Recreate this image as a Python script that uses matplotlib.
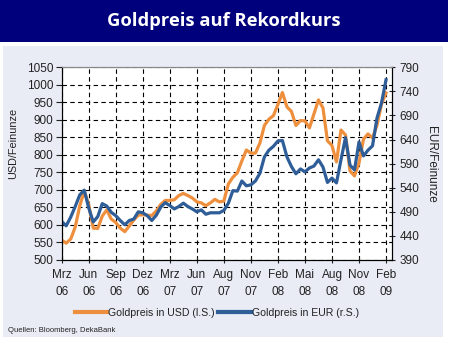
import matplotlib.pyplot as plt
import numpy as np
from matplotlib.patches import Rectangle
from matplotlib.lines import Line2D

plt.rcParams['font.family'] = ['Liberation Sans', 'DejaVu Sans']

# Achsenbeschriftung (gleichmäßige Abstände)
monate = ['Mrz\n06', 'Jun\n06', 'Sep\n06', 'Dez\n06', 'Mrz\n07', 'Jun\n07', 'Aug\n07',
          'Nov\n07', 'Feb\n08', 'Mai\n08', 'Aug\n08', 'Nov\n08', 'Feb\n09']

# Goldpreis in USD/Feinunze, 6 Werte je Abschnitt
usd = [557, 548, 560, 594, 654, 697, 658, 591, 590, 625, 643, 617, 607,
       591, 581, 597, 614, 628, 629, 628, 627, 640, 659, 670, 670,
       672, 684, 690, 684, 677, 666, 663, 655, 663, 673, 666, 668,
       717, 736, 749, 783, 814, 805, 805, 834, 884, 902, 912, 944,
       978, 937, 924, 884, 898, 897, 877, 917, 957, 934, 840, 827,
       780, 871, 857, 754, 740, 777, 845, 860, 848, 885, 945, 977]

# Goldpreis in EUR/Feinunze, gleiche Zeitpunkte
eur = [470, 461, 479, 501, 525, 535, 498, 469, 480, 507, 502, 489, 482,
       472, 463, 472, 475, 490, 488, 482, 472, 483, 500, 509, 503,
       496, 501, 508, 501, 496, 490, 494, 485, 488, 488, 488, 493,
       508, 534, 533, 554, 544, 546, 554, 570, 604, 618, 626, 637,
       638, 604, 584, 569, 579, 573, 581, 585, 598, 583, 551, 560,
       550, 598, 644, 587, 577, 635, 606, 618, 627, 685, 716, 764]

x = np.arange(len(usd)) / 6

orange = '#EE8F3E'
blau = '#2E5D98'
navy = '#00007C'
panel = '#E9ECF5'

fig = plt.figure(figsize=(4.5, 3.46), dpi=100)

# Titelbalken und Hintergrundfläche
fig.add_artist(Rectangle((0, 0.880), 448 / 450, 0.120, transform=fig.transFigure,
                         facecolor=navy, edgecolor='none', zorder=-2))
fig.add_artist(Rectangle((3 / 450, 9 / 346), 440 / 450, 291 / 346, transform=fig.transFigure,
                         facecolor=panel, edgecolor='none', zorder=-2))
fig.text(0.497, 0.938, 'Goldpreis auf Rekordkurs', color='white', fontsize=13.2,
         fontweight='bold', family=['Open Sans', 'DejaVu Sans'], ha='center', va='center')

ax = fig.add_axes([61.7 / 450, 86 / 346, 330 / 450, 192.7 / 346])
ax.set_facecolor('white')
ax.plot(x, usd, color=orange, lw=2.3, solid_joinstyle='round')
ax.set_xlim(0, 12.21)
ax.set_ylim(500, 1050)
ax.set_yticks(np.arange(500, 1051, 50))
ax.set_xticks(range(len(monate)))
ax.set_xticklabels(monate, linespacing=1.55)
ax.grid(True, color='black', linestyle=(0, (4, 3)), linewidth=0.8)
ax.set_axisbelow(True)
ax.tick_params(axis='y', direction='out', length=4, width=0.8, labelsize=8.5,
               colors='#222222', pad=2)
ax.tick_params(axis='x', direction='inout', length=5, width=0.8, labelsize=8.5,
               colors='#222222', pad=4)
ax.spines['top'].set_color('#888888')

ax2 = ax.twinx()
ax2.plot(x, eur, color=blau, lw=2.3, solid_joinstyle='round')
ax2.set_ylim(390, 790)
ax2.set_yticks(np.arange(390, 791, 50))
ax2.tick_params(axis='y', direction='inout', length=5, width=0.8, labelsize=8.5,
                colors='#222222', pad=3)
ax2.spines['top'].set_color('#888888')

fig.text(13.5 / 450, 1 - 143 / 346, 'USD/Feinunze', rotation=90, fontsize=7.8,
         color='#222222', ha='center', va='center')
fig.text(431 / 450, 1 - 164 / 346, 'EUR/Feinunze', rotation=-90, fontsize=8.5,
         color='#222222', ha='center', va='center')

handles = [Line2D([], [], color=orange, lw=3), Line2D([], [], color=blau, lw=3)]
fig.legend(handles, ['Goldpreis in USD (l.S.)', 'Goldpreis in EUR (r.S.)'],
           loc='center', bbox_to_anchor=(0.482, 1 - 313 / 346), ncol=2, frameon=False,
           fontsize=7.6, handlelength=3.1, handletextpad=0.1, columnspacing=0.3,
           labelcolor='#222222')

fig.text(8 / 450, 1 - 331 / 346, 'Quellen: Bloomberg, DekaBank', fontsize=5.5,
         color='#222222', ha='left', va='center')

fig.savefig('out.png', dpi=100)
